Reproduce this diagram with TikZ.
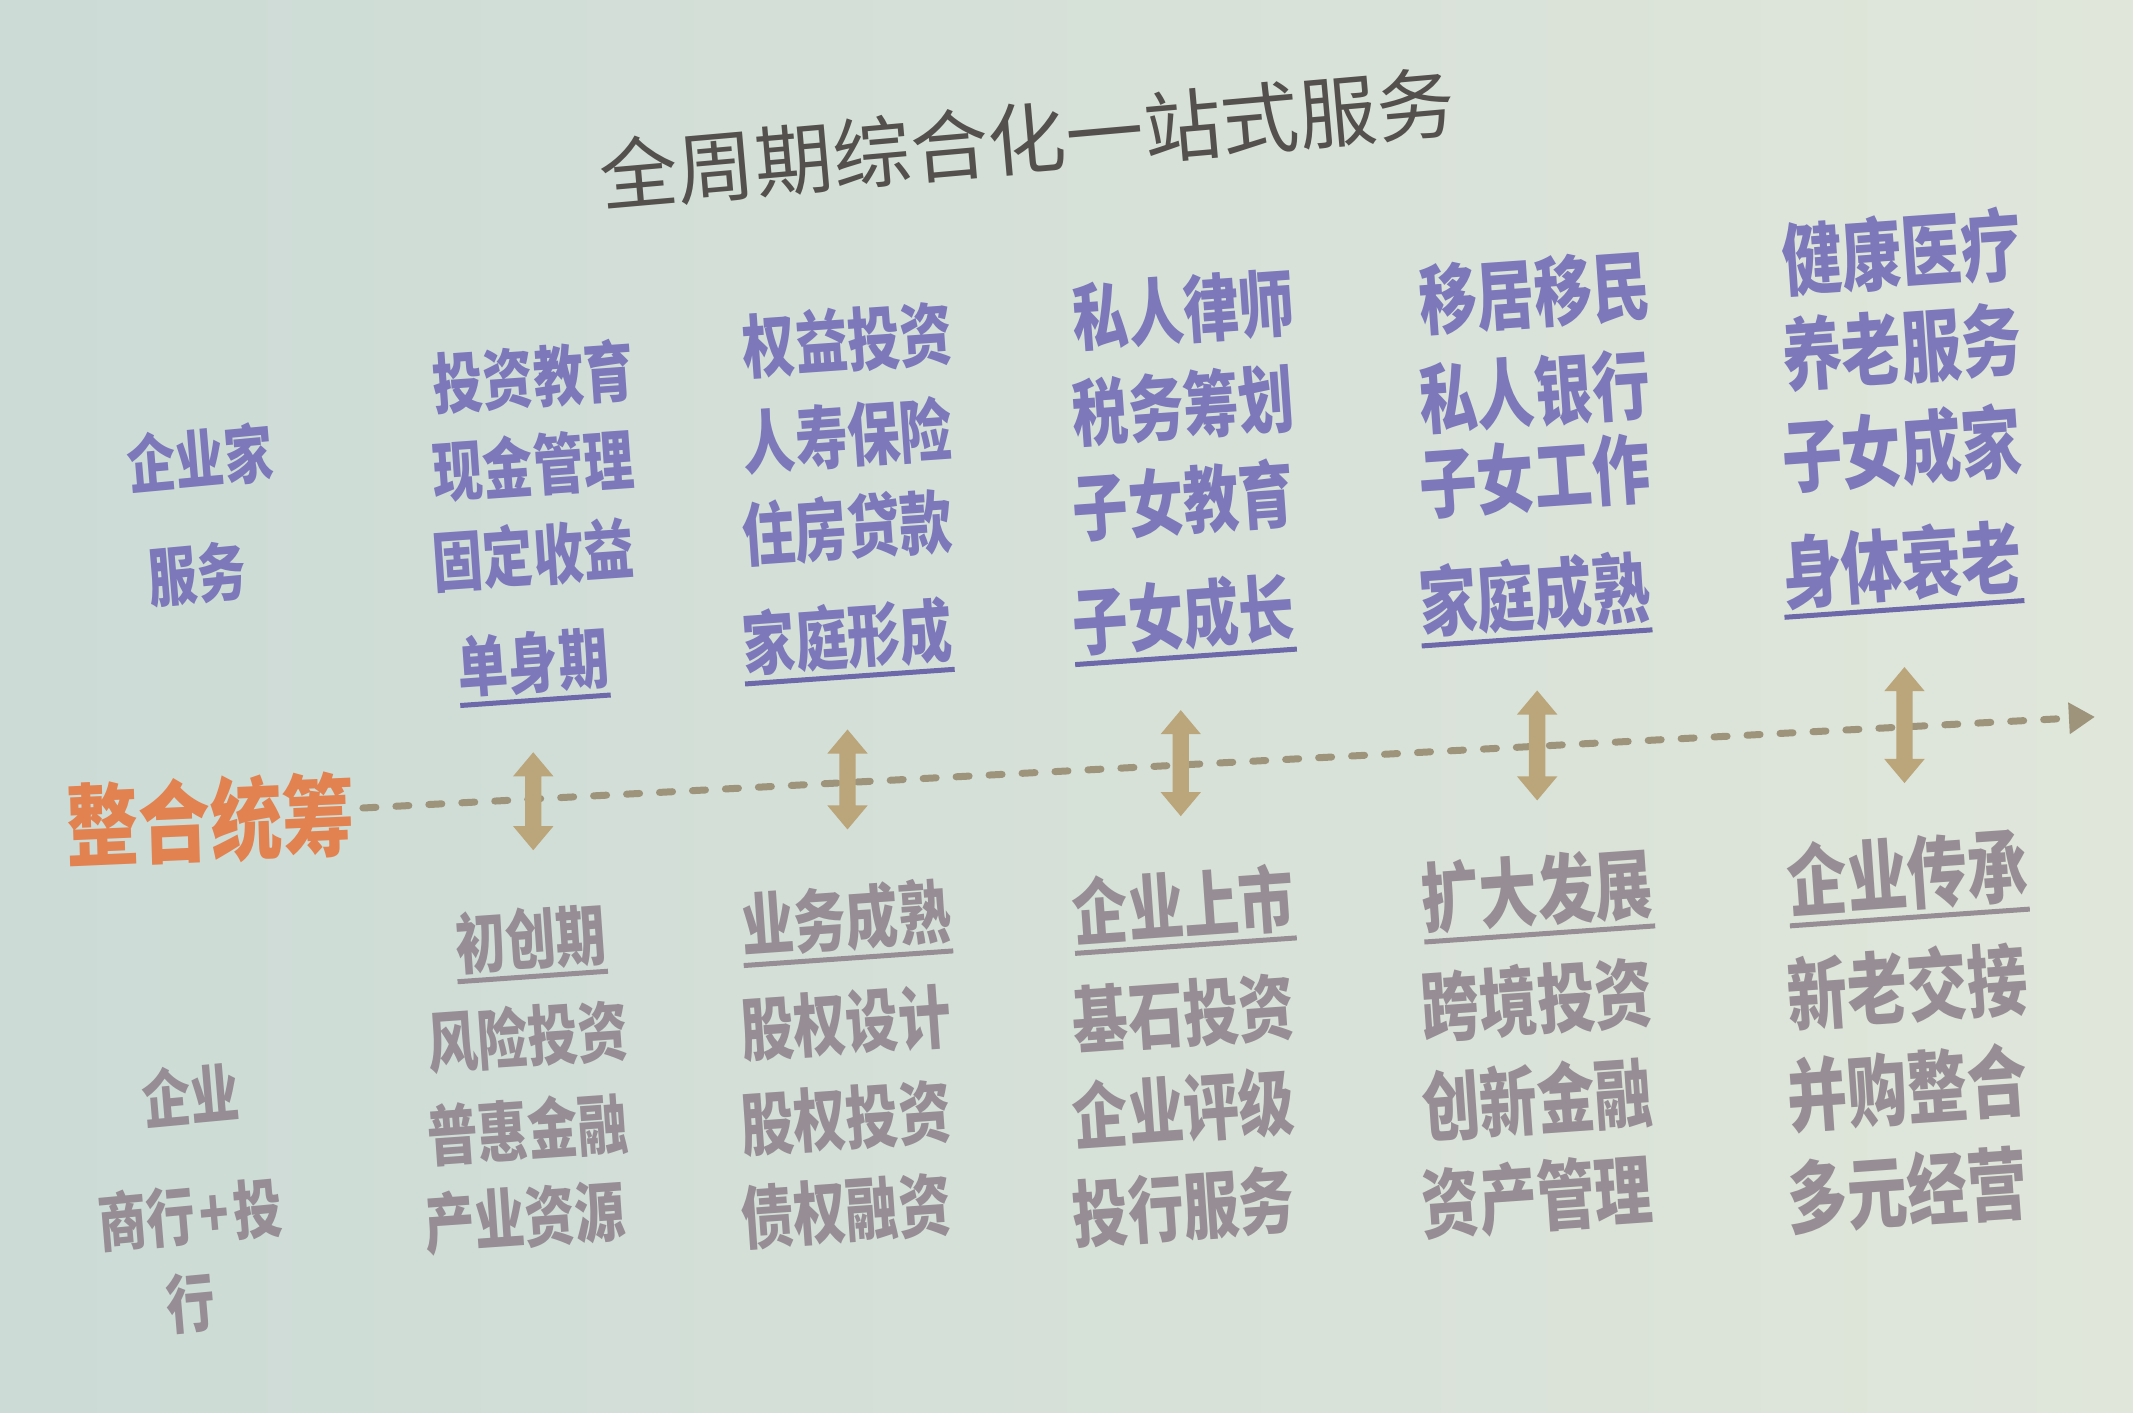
\documentclass[tikz,border=0pt]{standalone}
\usepackage{fontspec}
\newfontfamily\cjk{Noto Sans CJK SC}
\usetikzlibrary{shapes.arrows,arrows.meta}
\definecolor{bgl}{RGB}{204,219,214}
\definecolor{bgr}{RGB}{224,230,218}
\definecolor{ttl}{RGB}{84,80,78}
\definecolor{pur}{RGB}{124,120,186}
\definecolor{purd}{RGB}{108,104,170}
\definecolor{gry}{RGB}{150,142,148}
\definecolor{org}{RGB}{226,130,80}
\definecolor{tanc}{RGB}{186,166,122}
\definecolor{dsh}{RGB}{158,148,124}
\tikzset{
  lbl/.style={inner sep=0pt, font=\cjk\bfseries\fontsize{#1}{#1}\selectfont, rotate=4, xscale=.76},
  up/.style={lbl=#1, text=pur},
  dn/.style={lbl=#1, text=gry},
  ulp/.style={draw=purd, line width=5pt},
  ulg/.style={draw=gry, line width=5pt},
  darr/.style={shape=double arrow, fill=tanc, rotate=90, inner sep=8pt,
     minimum width=40pt, double arrow head extend=12pt, double arrow tip angle=80,
     minimum height=#1},
  dashline/.style={draw=dsh, line width=7pt, line cap=round, dash pattern=on 13pt off 20pt,
     -{Triangle[length=26pt,width=30pt]}},
}
\begin{document}
\begin{tikzpicture}[x=1.3603pt,y=-1.3603pt]
\useasboundingbox (0,0) rectangle (1568,1038);
\fill[left color=bgl, right color=bgr] (0,0) rectangle (1568,1038);

% title
\node[inner sep=0pt, font=\cjk\fontsize{78}{78}\selectfont, text=ttl, rotate=5] (title) at (755,102) {全周期综合化一站式服务};

% left labels
\node[up=64, rotate=1] (ent) at (147,337) {企业家};
\node[up=64, rotate=1] (srv) at (145,422) {服务};
\node[dn=64, rotate=1] (cmp) at (140,805) {企业};
\node[dn=64, rotate=1] (cib) at (140,893) {商行\kern6pt+\kern6pt投};
\node[dn=64, rotate=1] (cib2) at (140,958) {行};
\node[inner sep=0pt, font=\cjk\bfseries\fontsize{90}{90}\selectfont, text=org, xscale=.8, rotate=2] (org) at (155,603) {整合统筹};

% upper column 1
\node[up=66] (u1a) at (392,277) {投资教育};
\node[up=66] (u1b) at (392,342) {现金管理};
\node[up=66] (u1c) at (392,408) {固定收益};
\node[up=66] (u1d) at (392,487) {单身期};
% upper column 2
\node[up=69] (u2a) at (623,250) {权益投资};
\node[up=69] (u2b) at (623,320) {人寿保险};
\node[up=69] (u2c) at (623,388) {住房贷款};
\node[up=69] (u2d) at (623,468) {家庭形成};
% upper column 3
\node[up=73] (u3a) at (870,228) {私人律师};
\node[up=73] (u3b) at (870,298) {税务筹划};
\node[up=73] (u3c) at (870,368) {子女教育};
\node[up=73] (u3d) at (870,452) {子女成长};
% upper column 4
\node[up=76] (u4a) at (1128,215) {移居移民};
\node[up=76] (u4b) at (1128,288) {私人银行};
\node[up=76] (u4c) at (1128,350) {子女工作};
\node[up=76] (u4d) at (1128,437) {家庭成熟};
% upper column 5
\node[up=79] (u5a) at (1398,185) {健康医疗};
\node[up=79] (u5b) at (1398,255) {养老服务};
\node[up=79] (u5c) at (1398,330) {子女成家};
\node[up=79] (u5d) at (1398,415) {身体衰老};

% lower column 1
\node[dn=66] (d1a) at (390,690) {初创期};
\node[dn=66] (d1b) at (388,762) {风险投资};
\node[dn=66] (d1c) at (388,830) {普惠金融};
\node[dn=66] (d1d) at (386,895) {产业资源};
% lower column 2
\node[dn=69] (d2a) at (622,675) {业务成熟};
\node[dn=69] (d2b) at (622,752) {股权设计};
\node[dn=69] (d2c) at (622,822) {股权投资};
\node[dn=69] (d2d) at (622,890) {债权融资};
% lower column 3
\node[dn=73] (d3a) at (870,665) {企业上市};
\node[dn=73] (d3b) at (870,745) {基石投资};
\node[dn=73] (d3c) at (870,815) {企业评级};
\node[dn=73] (d3d) at (870,887) {投行服务};
% lower column 4
\node[dn=76] (d4a) at (1130,655) {扩大发展};
\node[dn=76] (d4b) at (1130,735) {跨境投资};
\node[dn=76] (d4c) at (1130,808) {创新金融};
\node[dn=76] (d4d) at (1130,880) {资产管理};
% lower column 5
\node[dn=79] (d5a) at (1402,642) {企业传承};
\node[dn=79] (d5b) at (1402,725) {新老交接};
\node[dn=79] (d5c) at (1402,800) {并购整合};
\node[dn=79] (d5d) at (1402,875) {多元经营};

% underlines
\foreach \n in {u1d,u2d,u3d,u4d,u5d}
  \draw[ulp] ([yshift=-6pt]\n.south west) -- ([yshift=-6pt]\n.south east);
\foreach \n in {d1a,d2a,d3a,d4a,d5a}
  \draw[ulg] ([yshift=-6pt]\n.south west) -- ([yshift=-6pt]\n.south east);

% dashed timeline
\coordinate (tend) at (1540,527);
\draw[dashline] ([xshift=8pt,yshift=6pt]org.east) -- (tend);

% double arrows
\node[darr=98pt]  (a1) at (392,589) {};
\node[darr=100pt] (a2) at (623,573) {};
\node[darr=106pt] (a3) at (868,561) {};
\node[darr=110pt] (a4) at (1130,548) {};
\node[darr=116pt] (a5) at (1400,533) {};
\end{tikzpicture}
\end{document}
